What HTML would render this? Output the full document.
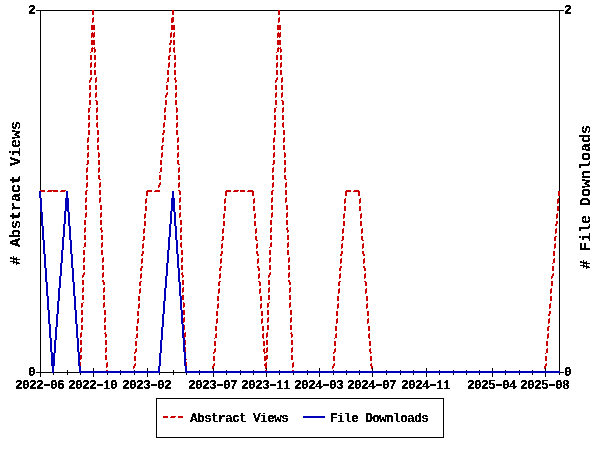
<!DOCTYPE html>
<html><head><meta charset="utf-8"><title>Usage chart</title>
<style>
html,body{margin:0;padding:0;background:#fff;}
body{width:600px;height:450px;position:relative;overflow:hidden;font-family:"Liberation Mono",monospace;color:#000;}
svg{position:absolute;left:0;top:0;}
.t{position:absolute;white-space:pre;font-weight:bold;font-size:13px;line-height:13px;letter-spacing:-0.80px;}
.xl{top:379px;width:49px;}
.t{filter:url(#thr);}
.big{filter:url(#thr2);}
.h{display:inline-block;transform:scaleX(1.7);transform-origin:50% 50%;}


.big{position:absolute;white-space:pre;font-weight:bold;font-size:15px;line-height:15px;width:144px;height:15px;transform-origin:0 0;transform:rotate(-90deg);}
</style></head><body>
<svg width="600" height="450" viewBox="0 0 600 450" shape-rendering="crispEdges">
<defs><filter id="thr" x="0" y="0" width="100%" height="100%" color-interpolation-filters="sRGB"><feComponentTransfer><feFuncA type="discrete" tableValues="0 0 1 1 1"/></feComponentTransfer></filter><filter id="thr2" x="0" y="0" width="100%" height="100%" color-interpolation-filters="sRGB"><feComponentTransfer><feFuncA type="discrete" tableValues="0 0 1 1 1"/></feComponentTransfer></filter></defs>
<rect x="0" y="0" width="600" height="450" fill="#ffffff"/>
<path fill="#000000" d="M36 10h56v1h-56zM94 10h78v1h-78zM174 10h104v1h-104zM280 10h284v1h-284zM40 11h1v179h-1zM559 11h1v180h-1zM559 196h1v175h-1zM40 212h1v160h-1zM93 368h1v3h-1zM147 368h1v3h-1zM213 368h1v3h-1zM266 368h1v2h-1zM319 368h1v3h-1zM372 368h1v3h-1zM426 368h1v3h-1zM492 368h1v3h-1zM545 368h1v3h-1zM67 370h1v2h-1zM120 370h1v1h-1zM134 370h1v1h-1zM173 370h1v2h-1zM199 370h1v1h-1zM226 370h1v1h-1zM240 370h1v1h-1zM253 370h1v1h-1zM279 370h1v1h-1zM307 370h1v1h-1zM333 370h1v1h-1zM346 370h1v1h-1zM359 370h1v1h-1zM386 370h1v1h-1zM400 370h1v1h-1zM413 370h1v1h-1zM439 370h1v1h-1zM453 370h1v1h-1zM466 370h1v1h-1zM479 370h1v1h-1zM505 370h1v1h-1zM519 370h1v1h-1zM532 370h1v1h-1zM36 372h16v1h-16zM54 372h25v1h-25zM160 372h25v1h-25zM560 372h4v1h-4zM40 373h1v4h-1zM53 373h1v2h-1zM67 373h1v2h-1zM80 373h1v2h-1zM93 373h1v4h-1zM107 373h1v2h-1zM120 373h1v2h-1zM134 373h1v2h-1zM147 373h1v4h-1zM159 373h1v2h-1zM173 373h1v2h-1zM186 373h1v2h-1zM199 373h1v2h-1zM213 373h1v4h-1zM226 373h1v2h-1zM240 373h1v2h-1zM253 373h1v2h-1zM266 373h1v4h-1zM279 373h1v2h-1zM293 373h1v2h-1zM307 373h1v2h-1zM319 373h1v4h-1zM333 373h1v2h-1zM346 373h1v2h-1zM359 373h1v2h-1zM372 373h1v4h-1zM386 373h1v2h-1zM400 373h1v2h-1zM413 373h1v2h-1zM426 373h1v4h-1zM439 373h1v2h-1zM453 373h1v2h-1zM466 373h1v2h-1zM479 373h1v2h-1zM492 373h1v4h-1zM505 373h1v2h-1zM519 373h1v2h-1zM532 373h1v2h-1zM545 373h1v4h-1zM559 373h1v2h-1zM156 398h288v1h-288zM156 399h1v38h-1zM443 399h1v38h-1zM156 437h288v1h-288z"/><path fill="#cc0000" d="M92 10h2v5h-2zM172 10h2v5h-2zM278 10h2v5h-2zM93 17h1v1h-1zM172 17h2v1h-2zM279 17h1v1h-1zM92 18h2v4h-2zM171 18h3v4h-3zM278 18h2v4h-2zM92 22h1v1h-1zM171 22h2v1h-2zM278 22h1v1h-1zM91 25h4v5h-4zM171 25h4v5h-4zM277 25h4v5h-4zM92 32h1v1h-1zM94 32h1v1h-1zM171 32h1v1h-1zM174 32h1v1h-1zM278 32h1v1h-1zM280 32h1v1h-1zM91 33h4v4h-4zM170 33h2v4h-2zM173 33h2v4h-2zM277 33h4v4h-4zM91 37h1v1h-1zM93 37h1v1h-1zM170 37h1v1h-1zM173 37h1v1h-1zM277 37h1v1h-1zM279 37h1v1h-1zM91 40h4v5h-4zM170 40h2v3h-2zM173 40h2v5h-2zM277 40h4v5h-4zM169 43h2v2h-2zM92 47h1v1h-1zM94 47h1v1h-1zM170 47h1v1h-1zM174 47h1v1h-1zM278 47h1v1h-1zM280 47h1v1h-1zM91 48h4v1h-4zM169 48h2v4h-2zM173 48h2v4h-2zM277 48h4v1h-4zM91 49h2v3h-2zM94 49h2v3h-2zM277 49h2v3h-2zM280 49h2v3h-2zM90 52h1v1h-1zM94 52h1v1h-1zM169 52h1v1h-1zM174 52h1v1h-1zM276 52h1v1h-1zM280 52h1v1h-1zM90 55h2v5h-2zM94 55h2v5h-2zM169 55h2v1h-2zM174 55h2v5h-2zM276 55h2v5h-2zM280 55h2v5h-2zM168 56h2v4h-2zM91 62h1v1h-1zM95 62h1v1h-1zM169 62h1v1h-1zM175 62h1v1h-1zM277 62h1v1h-1zM281 62h1v1h-1zM90 63h2v4h-2zM94 63h2v4h-2zM168 63h2v4h-2zM174 63h2v4h-2zM276 63h2v4h-2zM280 63h2v4h-2zM90 67h1v1h-1zM94 67h1v1h-1zM168 67h1v1h-1zM174 67h1v1h-1zM276 67h1v1h-1zM280 67h1v1h-1zM90 70h2v5h-2zM94 70h2v5h-2zM167 70h2v5h-2zM174 70h2v5h-2zM276 70h2v5h-2zM280 70h2v5h-2zM91 77h1v1h-1zM96 77h1v1h-1zM168 77h1v1h-1zM175 77h1v1h-1zM277 77h1v1h-1zM282 77h1v1h-1zM90 78h2v2h-2zM95 78h2v4h-2zM167 78h2v4h-2zM174 78h2v2h-2zM276 78h2v2h-2zM281 78h2v4h-2zM89 80h2v2h-2zM175 80h2v2h-2zM275 80h2v2h-2zM89 82h1v1h-1zM95 82h1v1h-1zM166 82h1v1h-1zM175 82h1v1h-1zM275 82h1v1h-1zM281 82h1v1h-1zM89 85h2v5h-2zM95 85h2v5h-2zM166 85h2v5h-2zM175 85h2v5h-2zM275 85h2v5h-2zM281 85h2v5h-2zM90 92h1v1h-1zM96 92h1v1h-1zM167 92h1v1h-1zM176 92h1v1h-1zM276 92h1v1h-1zM282 92h1v1h-1zM89 93h2v4h-2zM95 93h2v4h-2zM166 93h2v2h-2zM175 93h2v4h-2zM275 93h2v4h-2zM281 93h2v4h-2zM165 95h2v2h-2zM89 97h1v1h-1zM95 97h1v1h-1zM165 97h1v1h-1zM175 97h1v1h-1zM275 97h1v1h-1zM281 97h1v1h-1zM89 100h2v5h-2zM95 100h2v1h-2zM165 100h2v5h-2zM175 100h2v5h-2zM275 100h2v5h-2zM281 100h2v1h-2zM96 101h2v4h-2zM282 101h2v4h-2zM90 107h1v1h-1zM97 107h1v1h-1zM165 107h1v1h-1zM176 107h1v1h-1zM276 107h1v1h-1zM283 107h1v1h-1zM88 108h2v4h-2zM96 108h2v4h-2zM164 108h2v4h-2zM176 108h2v4h-2zM274 108h2v4h-2zM282 108h2v4h-2zM88 112h1v1h-1zM96 112h1v1h-1zM164 112h1v1h-1zM176 112h1v1h-1zM274 112h1v1h-1zM282 112h1v1h-1zM88 115h2v5h-2zM96 115h2v5h-2zM164 115h2v5h-2zM176 115h2v5h-2zM274 115h2v5h-2zM282 115h2v5h-2zM89 122h1v1h-1zM97 122h1v1h-1zM164 122h1v1h-1zM177 122h1v1h-1zM275 122h1v1h-1zM283 122h1v1h-1zM88 123h2v4h-2zM96 123h2v4h-2zM163 123h2v4h-2zM176 123h2v4h-2zM274 123h2v4h-2zM282 123h2v4h-2zM88 127h1v1h-1zM97 127h1v1h-1zM163 127h1v1h-1zM176 127h1v1h-1zM274 127h1v1h-1zM283 127h1v1h-1zM88 130h2v5h-2zM97 130h2v5h-2zM163 130h2v3h-2zM176 130h2v5h-2zM274 130h2v5h-2zM283 130h2v5h-2zM162 133h2v2h-2zM88 137h1v1h-1zM98 137h1v1h-1zM163 137h1v1h-1zM178 137h1v1h-1zM274 137h1v1h-1zM284 137h1v1h-1zM87 138h2v4h-2zM97 138h2v4h-2zM162 138h2v4h-2zM177 138h2v4h-2zM273 138h2v4h-2zM283 138h2v4h-2zM87 142h1v1h-1zM97 142h1v1h-1zM162 142h1v1h-1zM177 142h1v1h-1zM273 142h1v1h-1zM283 142h1v1h-1zM87 145h2v5h-2zM97 145h2v5h-2zM162 145h2v1h-2zM177 145h2v5h-2zM273 145h2v5h-2zM283 145h2v5h-2zM161 146h2v4h-2zM88 152h1v1h-1zM98 152h1v1h-1zM162 152h1v1h-1zM178 152h1v1h-1zM274 152h1v1h-1zM284 152h1v1h-1zM87 153h2v4h-2zM98 153h2v4h-2zM161 153h2v4h-2zM177 153h2v4h-2zM273 153h2v4h-2zM284 153h2v4h-2zM87 157h1v1h-1zM98 157h1v1h-1zM161 157h1v1h-1zM177 157h1v1h-1zM273 157h1v1h-1zM284 157h1v1h-1zM87 160h2v4h-2zM98 160h2v5h-2zM160 160h2v5h-2zM177 160h2v4h-2zM273 160h2v4h-2zM284 160h2v5h-2zM86 164h2v1h-2zM178 164h2v1h-2zM272 164h2v1h-2zM87 167h1v1h-1zM99 167h1v1h-1zM161 167h1v1h-1zM179 167h1v1h-1zM273 167h1v1h-1zM285 167h1v1h-1zM86 168h2v4h-2zM98 168h2v4h-2zM160 168h2v4h-2zM178 168h2v4h-2zM272 168h2v4h-2zM284 168h2v4h-2zM86 172h1v1h-1zM98 172h1v1h-1zM159 172h1v1h-1zM178 172h1v1h-1zM272 172h1v1h-1zM284 172h1v1h-1zM86 175h2v5h-2zM98 175h2v4h-2zM159 175h2v5h-2zM178 175h2v5h-2zM272 175h2v5h-2zM284 175h2v4h-2zM99 179h2v1h-2zM285 179h2v1h-2zM87 182h1v1h-1zM100 182h1v1h-1zM160 182h1v1h-1zM179 182h1v1h-1zM273 182h1v1h-1zM286 182h1v1h-1zM86 183h2v4h-2zM99 183h2v4h-2zM159 183h2v2h-2zM178 183h2v4h-2zM272 183h2v4h-2zM285 183h2v4h-2zM158 185h2v2h-2zM86 187h1v1h-1zM99 187h1v1h-1zM158 187h1v1h-1zM178 187h1v1h-1zM272 187h1v1h-1zM285 187h1v1h-1zM40 190h5v1h-5zM48 190h10v1h-10zM61 190h5v1h-5zM86 190h2v1h-2zM99 190h2v5h-2zM147 190h5v1h-5zM155 190h5v1h-5zM178 190h2v1h-2zM226 190h5v1h-5zM234 190h5v1h-5zM240 190h5v2h-5zM248 190h5v1h-5zM272 190h2v1h-2zM285 190h2v5h-2zM346 190h5v1h-5zM354 190h5v1h-5zM41 191h4v1h-4zM47 191h5v1h-5zM53 191h5v1h-5zM60 191h5v1h-5zM85 191h2v4h-2zM146 191h6v1h-6zM154 191h6v1h-6zM179 191h2v4h-2zM225 191h6v1h-6zM233 191h5v1h-5zM247 191h7v1h-7zM271 191h2v4h-2zM345 191h6v1h-6zM353 191h7v1h-7zM558 191h2v5h-2zM146 192h2v4h-2zM225 192h2v4h-2zM252 192h2v4h-2zM345 192h2v4h-2zM358 192h2v4h-2zM86 197h1v1h-1zM100 197h1v1h-1zM180 197h1v1h-1zM272 197h1v1h-1zM286 197h1v1h-1zM85 198h2v4h-2zM99 198h2v4h-2zM146 198h1v1h-1zM179 198h2v4h-2zM225 198h1v1h-1zM254 198h1v1h-1zM271 198h2v4h-2zM285 198h2v4h-2zM345 198h1v1h-1zM360 198h1v1h-1zM558 198h1v1h-1zM145 199h2v4h-2zM224 199h2v4h-2zM253 199h2v4h-2zM344 199h2v4h-2zM359 199h2v4h-2zM557 199h2v4h-2zM85 202h1v1h-1zM99 202h1v1h-1zM179 202h1v1h-1zM271 202h1v1h-1zM285 202h1v1h-1zM145 203h1v1h-1zM224 203h1v1h-1zM253 203h1v1h-1zM344 203h1v1h-1zM359 203h1v1h-1zM557 203h1v1h-1zM85 205h2v5h-2zM100 205h2v5h-2zM179 205h2v5h-2zM271 205h2v5h-2zM286 205h2v5h-2zM145 206h2v5h-2zM224 206h2v5h-2zM253 206h2v5h-2zM344 206h2v5h-2zM359 206h2v5h-2zM557 206h2v5h-2zM86 212h1v1h-1zM101 212h1v1h-1zM180 212h1v1h-1zM272 212h1v1h-1zM287 212h1v1h-1zM85 213h2v4h-2zM100 213h2v4h-2zM145 213h1v1h-1zM179 213h2v4h-2zM224 213h1v1h-1zM255 213h1v1h-1zM271 213h2v4h-2zM286 213h2v4h-2zM344 213h1v1h-1zM361 213h1v1h-1zM557 213h1v1h-1zM144 214h2v4h-2zM223 214h2v4h-2zM254 214h2v4h-2zM343 214h2v4h-2zM360 214h2v4h-2zM556 214h2v4h-2zM85 217h1v1h-1zM100 217h1v1h-1zM179 217h1v1h-1zM271 217h1v1h-1zM286 217h1v1h-1zM144 218h1v1h-1zM223 218h1v1h-1zM254 218h1v1h-1zM343 218h1v1h-1zM360 218h1v1h-1zM556 218h1v1h-1zM84 220h2v5h-2zM100 220h2v5h-2zM180 220h2v5h-2zM270 220h2v5h-2zM286 220h2v5h-2zM144 221h2v5h-2zM223 221h2v5h-2zM254 221h2v5h-2zM343 221h2v5h-2zM360 221h2v5h-2zM556 221h2v3h-2zM555 224h2v2h-2zM85 227h1v1h-1zM101 227h1v1h-1zM181 227h1v1h-1zM271 227h1v1h-1zM287 227h1v1h-1zM84 228h2v4h-2zM100 228h2v2h-2zM144 228h1v1h-1zM180 228h2v4h-2zM223 228h1v1h-1zM256 228h1v1h-1zM270 228h2v4h-2zM286 228h2v2h-2zM343 228h1v1h-1zM362 228h1v1h-1zM556 228h1v1h-1zM143 229h2v4h-2zM222 229h2v4h-2zM255 229h2v4h-2zM342 229h2v4h-2zM361 229h2v4h-2zM555 229h2v4h-2zM101 230h2v2h-2zM287 230h2v2h-2zM84 232h1v1h-1zM101 232h1v1h-1zM180 232h1v1h-1zM270 232h1v1h-1zM287 232h1v1h-1zM143 233h1v1h-1zM222 233h1v1h-1zM255 233h1v1h-1zM342 233h1v1h-1zM361 233h1v1h-1zM555 233h1v1h-1zM84 235h2v5h-2zM101 235h2v5h-2zM180 235h2v5h-2zM270 235h2v5h-2zM287 235h2v5h-2zM143 236h2v4h-2zM222 236h2v4h-2zM255 236h2v4h-2zM342 236h2v4h-2zM361 236h2v4h-2zM555 236h2v1h-2zM554 237h2v4h-2zM142 240h2v1h-2zM221 240h2v1h-2zM256 240h2v1h-2zM341 240h2v1h-2zM362 240h2v1h-2zM85 242h1v1h-1zM102 242h1v1h-1zM181 242h1v1h-1zM271 242h1v1h-1zM288 242h1v1h-1zM84 243h2v4h-2zM101 243h2v4h-2zM143 243h1v1h-1zM180 243h2v4h-2zM222 243h1v1h-1zM257 243h1v1h-1zM270 243h2v4h-2zM287 243h2v4h-2zM342 243h1v1h-1zM363 243h1v1h-1zM555 243h1v1h-1zM142 244h2v4h-2zM221 244h2v4h-2zM256 244h2v4h-2zM341 244h2v4h-2zM362 244h2v4h-2zM554 244h2v4h-2zM83 247h1v1h-1zM101 247h1v1h-1zM181 247h1v1h-1zM269 247h1v1h-1zM287 247h1v1h-1zM142 248h1v1h-1zM221 248h1v1h-1zM256 248h1v1h-1zM341 248h1v1h-1zM362 248h1v1h-1zM554 248h1v1h-1zM83 250h2v5h-2zM101 250h2v5h-2zM181 250h2v5h-2zM269 250h2v5h-2zM287 250h2v5h-2zM142 251h2v3h-2zM221 251h2v3h-2zM256 251h2v3h-2zM341 251h2v3h-2zM362 251h2v3h-2zM553 251h2v5h-2zM141 254h2v2h-2zM220 254h2v2h-2zM257 254h2v2h-2zM340 254h2v2h-2zM363 254h2v2h-2zM84 257h1v1h-1zM103 257h1v1h-1zM182 257h1v1h-1zM270 257h1v1h-1zM289 257h1v1h-1zM83 258h2v4h-2zM102 258h2v4h-2zM142 258h1v1h-1zM181 258h2v4h-2zM221 258h1v1h-1zM258 258h1v1h-1zM269 258h2v4h-2zM288 258h2v4h-2zM341 258h1v1h-1zM364 258h1v1h-1zM554 258h1v1h-1zM141 259h2v4h-2zM220 259h2v4h-2zM257 259h2v4h-2zM340 259h2v4h-2zM363 259h2v4h-2zM553 259h2v4h-2zM83 262h1v1h-1zM102 262h1v1h-1zM181 262h1v1h-1zM269 262h1v1h-1zM288 262h1v1h-1zM141 263h1v1h-1zM220 263h1v1h-1zM257 263h1v1h-1zM340 263h1v1h-1zM363 263h1v1h-1zM552 263h1v1h-1zM83 265h2v5h-2zM102 265h2v5h-2zM181 265h2v5h-2zM269 265h2v5h-2zM288 265h2v5h-2zM141 266h2v2h-2zM220 266h2v2h-2zM257 266h2v2h-2zM340 266h2v2h-2zM363 266h2v2h-2zM552 266h2v5h-2zM140 268h2v3h-2zM219 268h2v3h-2zM258 268h2v3h-2zM339 268h2v3h-2zM364 268h2v3h-2zM84 272h1v1h-1zM103 272h1v1h-1zM182 272h1v1h-1zM270 272h1v1h-1zM289 272h1v1h-1zM83 273h2v2h-2zM102 273h2v4h-2zM141 273h1v1h-1zM181 273h2v2h-2zM220 273h1v1h-1zM259 273h1v1h-1zM269 273h2v2h-2zM288 273h2v4h-2zM340 273h1v1h-1zM365 273h1v1h-1zM553 273h1v1h-1zM140 274h2v4h-2zM219 274h2v4h-2zM258 274h2v4h-2zM339 274h2v4h-2zM364 274h2v4h-2zM552 274h2v2h-2zM82 275h2v2h-2zM182 275h2v2h-2zM268 275h2v2h-2zM551 276h2v2h-2zM82 277h1v1h-1zM102 277h1v1h-1zM182 277h1v1h-1zM268 277h1v1h-1zM288 277h1v1h-1zM140 278h1v1h-1zM219 278h1v1h-1zM258 278h1v1h-1zM339 278h1v1h-1zM364 278h1v1h-1zM551 278h1v1h-1zM82 280h2v5h-2zM102 280h2v2h-2zM182 280h2v5h-2zM268 280h2v5h-2zM288 280h2v2h-2zM140 281h2v1h-2zM219 281h2v1h-2zM258 281h2v1h-2zM339 281h2v1h-2zM364 281h2v1h-2zM551 281h2v5h-2zM103 282h2v3h-2zM139 282h2v4h-2zM218 282h2v4h-2zM259 282h2v4h-2zM289 282h2v3h-2zM338 282h2v4h-2zM365 282h2v4h-2zM83 287h1v1h-1zM104 287h1v1h-1zM183 287h1v1h-1zM269 287h1v1h-1zM290 287h1v1h-1zM82 288h2v4h-2zM103 288h2v4h-2zM140 288h1v1h-1zM182 288h2v4h-2zM219 288h1v1h-1zM260 288h1v1h-1zM268 288h2v4h-2zM289 288h2v4h-2zM339 288h1v1h-1zM366 288h1v1h-1zM551 288h1v1h-1zM139 289h2v4h-2zM218 289h2v4h-2zM259 289h2v4h-2zM338 289h2v4h-2zM365 289h2v4h-2zM550 289h2v4h-2zM82 292h1v1h-1zM103 292h1v1h-1zM182 292h1v1h-1zM268 292h1v1h-1zM289 292h1v1h-1zM139 293h1v1h-1zM218 293h1v1h-1zM259 293h1v1h-1zM338 293h1v1h-1zM365 293h1v1h-1zM550 293h1v1h-1zM82 295h2v5h-2zM103 295h2v5h-2zM182 295h2v5h-2zM268 295h2v5h-2zM289 295h2v5h-2zM138 296h2v5h-2zM217 296h2v5h-2zM260 296h2v5h-2zM337 296h2v5h-2zM366 296h2v5h-2zM550 296h2v5h-2zM83 302h1v1h-1zM104 302h1v1h-1zM183 302h1v1h-1zM269 302h1v1h-1zM290 302h1v1h-1zM81 303h2v4h-2zM103 303h2v4h-2zM139 303h1v1h-1zM183 303h2v4h-2zM218 303h1v1h-1zM261 303h1v1h-1zM267 303h2v4h-2zM289 303h2v4h-2zM338 303h1v1h-1zM367 303h1v1h-1zM550 303h1v1h-1zM138 304h2v4h-2zM217 304h2v4h-2zM260 304h2v4h-2zM337 304h2v4h-2zM366 304h2v4h-2zM549 304h2v4h-2zM81 307h1v1h-1zM103 307h1v1h-1zM183 307h1v1h-1zM267 307h1v1h-1zM289 307h1v1h-1zM138 308h1v1h-1zM217 308h1v1h-1zM260 308h1v1h-1zM337 308h1v1h-1zM366 308h1v1h-1zM549 308h1v1h-1zM81 310h2v5h-2zM104 310h2v5h-2zM183 310h2v5h-2zM267 310h2v5h-2zM290 310h2v5h-2zM137 311h2v5h-2zM216 311h2v5h-2zM261 311h2v5h-2zM336 311h2v5h-2zM367 311h2v5h-2zM549 311h2v3h-2zM548 314h2v2h-2zM82 317h1v1h-1zM105 317h1v1h-1zM184 317h1v1h-1zM268 317h1v1h-1zM291 317h1v1h-1zM81 318h2v4h-2zM104 318h2v4h-2zM138 318h1v1h-1zM183 318h2v4h-2zM217 318h1v1h-1zM262 318h1v1h-1zM267 318h2v4h-2zM290 318h2v4h-2zM337 318h1v1h-1zM368 318h1v1h-1zM549 318h1v1h-1zM137 319h2v4h-2zM216 319h2v4h-2zM261 319h2v4h-2zM336 319h2v4h-2zM367 319h2v4h-2zM548 319h2v4h-2zM81 322h1v1h-1zM104 322h1v1h-1zM183 322h1v1h-1zM267 322h1v1h-1zM290 322h1v1h-1zM137 323h1v1h-1zM216 323h1v1h-1zM261 323h1v1h-1zM336 323h1v1h-1zM367 323h1v1h-1zM548 323h1v1h-1zM81 325h2v5h-2zM104 325h2v5h-2zM184 325h1v5h-1zM267 325h2v5h-2zM290 325h2v5h-2zM136 326h2v5h-2zM215 326h2v5h-2zM262 326h2v5h-2zM335 326h2v5h-2zM368 326h2v5h-2zM548 326h2v1h-2zM547 327h2v4h-2zM81 332h1v1h-1zM105 332h1v1h-1zM185 332h1v1h-1zM267 332h1v1h-1zM291 332h1v1h-1zM80 333h2v4h-2zM104 333h2v1h-2zM137 333h1v1h-1zM184 333h2v4h-2zM216 333h1v1h-1zM263 333h1v1h-1zM266 333h2v4h-2zM290 333h2v1h-2zM336 333h1v1h-1zM369 333h1v1h-1zM548 333h1v1h-1zM105 334h2v3h-2zM136 334h2v4h-2zM215 334h2v4h-2zM262 334h2v4h-2zM291 334h2v3h-2zM335 334h2v4h-2zM368 334h2v4h-2zM547 334h2v4h-2zM80 337h1v1h-1zM105 337h1v1h-1zM184 337h1v1h-1zM266 337h1v1h-1zM291 337h1v1h-1zM135 338h1v1h-1zM214 338h1v1h-1zM263 338h1v1h-1zM334 338h1v1h-1zM369 338h1v1h-1zM547 338h1v1h-1zM80 340h2v5h-2zM105 340h2v5h-2zM185 340h1v5h-1zM266 340h2v5h-2zM291 340h2v5h-2zM135 341h2v5h-2zM214 341h2v5h-2zM263 341h2v5h-2zM334 341h2v5h-2zM369 341h2v5h-2zM546 341h2v5h-2zM81 347h1v1h-1zM106 347h1v1h-1zM185 347h1v5h-1zM267 347h1v1h-1zM292 347h1v1h-1zM80 348h2v4h-2zM105 348h2v4h-2zM136 348h1v1h-1zM215 348h1v1h-1zM264 348h1v1h-1zM266 348h2v4h-2zM291 348h2v4h-2zM335 348h1v1h-1zM370 348h1v1h-1zM547 348h1v1h-1zM135 349h2v3h-2zM214 349h2v3h-2zM263 349h2v3h-2zM334 349h2v3h-2zM369 349h2v3h-2zM546 349h2v4h-2zM80 352h1v1h-1zM105 352h1v1h-1zM134 352h2v1h-2zM213 352h2v1h-2zM264 352h3v1h-3zM291 352h1v1h-1zM333 352h2v1h-2zM370 352h2v1h-2zM134 353h1v1h-1zM213 353h1v1h-1zM264 353h1v1h-1zM333 353h1v1h-1zM370 353h1v1h-1zM545 353h1v1h-1zM80 355h2v4h-2zM105 355h2v5h-2zM266 355h2v1h-2zM291 355h2v5h-2zM134 356h2v5h-2zM213 356h2v5h-2zM264 356h4v3h-4zM333 356h2v5h-2zM370 356h2v5h-2zM545 356h2v5h-2zM80 359h1v1h-1zM186 359h1v1h-1zM264 359h3v1h-3zM264 360h2v1h-2zM80 362h1v4h-1zM107 362h1v1h-1zM186 362h1v4h-1zM266 362h1v1h-1zM293 362h1v1h-1zM106 363h2v4h-2zM135 363h1v1h-1zM214 363h1v1h-1zM265 363h2v1h-2zM292 363h2v4h-2zM334 363h1v1h-1zM371 363h1v1h-1zM546 363h1v1h-1zM134 364h2v2h-2zM213 364h2v2h-2zM264 364h3v2h-3zM333 364h2v2h-2zM370 364h2v2h-2zM545 364h2v2h-2zM133 366h2v2h-2zM212 366h2v2h-2zM265 366h2v2h-2zM332 366h2v2h-2zM371 366h2v2h-2zM544 366h2v2h-2zM106 367h1v1h-1zM292 367h1v1h-1zM133 368h1v1h-1zM212 368h1v1h-1zM265 368h1v1h-1zM332 368h1v1h-1zM371 368h1v1h-1zM544 368h1v1h-1zM106 370h2v1h-2zM265 370h2v1h-2zM292 370h2v1h-2zM163 416h5v2h-5zM171 416h5v1h-5zM178 416h5v2h-5zM170 417h5v1h-5z"/><path fill="#0000bb" d="M39 191h2v7h-2zM66 191h2v7h-2zM172 191h2v7h-2zM40 198h2v14h-2zM65 198h4v13h-4zM171 198h4v13h-4zM64 211h2v13h-2zM67 211h2v1h-2zM170 211h2v13h-2zM173 211h2v1h-2zM41 212h2v14h-2zM68 212h2v14h-2zM174 212h2v14h-2zM63 224h2v13h-2zM169 224h2v13h-2zM42 226h2v14h-2zM69 226h2v14h-2zM175 226h2v14h-2zM62 237h2v13h-2zM168 237h2v13h-2zM43 240h2v14h-2zM70 240h2v14h-2zM176 240h2v14h-2zM61 250h2v13h-2zM167 250h2v13h-2zM44 254h2v14h-2zM71 254h2v14h-2zM177 254h2v14h-2zM60 263h2v13h-2zM166 263h2v13h-2zM45 268h2v14h-2zM72 268h2v14h-2zM178 268h2v14h-2zM59 276h2v12h-2zM165 276h2v12h-2zM46 282h2v14h-2zM73 282h2v14h-2zM179 282h2v14h-2zM58 288h2v13h-2zM164 288h2v13h-2zM47 296h2v14h-2zM74 296h2v14h-2zM180 296h2v14h-2zM57 301h2v13h-2zM163 301h2v13h-2zM48 310h2v14h-2zM75 310h2v14h-2zM181 310h2v14h-2zM56 314h2v13h-2zM162 314h2v13h-2zM49 324h2v14h-2zM76 324h2v14h-2zM182 324h2v14h-2zM55 327h2v13h-2zM161 327h2v13h-2zM50 338h2v14h-2zM77 338h2v14h-2zM183 338h2v14h-2zM54 340h2v13h-2zM160 340h2v13h-2zM51 352h2v1h-2zM78 352h2v14h-2zM184 352h2v14h-2zM51 353h4v13h-4zM159 353h2v13h-2zM52 366h2v7h-2zM79 366h2v5h-2zM158 366h2v5h-2zM185 366h2v5h-2zM79 371h81v2h-81zM185 371h375v2h-375zM303 416h22v2h-22z"/>
</svg>
<div class="t" style="left:28px;top:4px">2</div>
<div class="t" style="left:28px;top:366px">0</div>
<div class="t" style="left:564px;top:4px">2</div>
<div class="t" style="left:564px;top:366px">0</div>
<div class="t xl" style="left:15px">2022<span class="h">-</span>06</div><div class="t xl" style="left:68px">2022<span class="h">-</span>10</div><div class="t xl" style="left:122px">2023<span class="h">-</span>02</div><div class="t xl" style="left:188px">2023<span class="h">-</span>07</div><div class="t xl" style="left:241px">2023<span class="h">-</span>11</div><div class="t xl" style="left:294px">2024<span class="h">-</span>03</div><div class="t xl" style="left:347px">2024<span class="h">-</span>07</div><div class="t xl" style="left:401px">2024<span class="h">-</span>11</div><div class="t xl" style="left:467px">2025<span class="h">-</span>04</div><div class="t xl" style="left:520px">2025<span class="h">-</span>08</div>
<div class="t lg" style="left:190px;top:412px">Abstract Views</div>
<div class="t lg" style="left:330px;top:412px">File Downloads</div>
<div class="big" style="left:9px;top:265px"># Abstract Views</div>
<div class="big" style="left:579px;top:269px"># File Downloads</div>
</body></html>
